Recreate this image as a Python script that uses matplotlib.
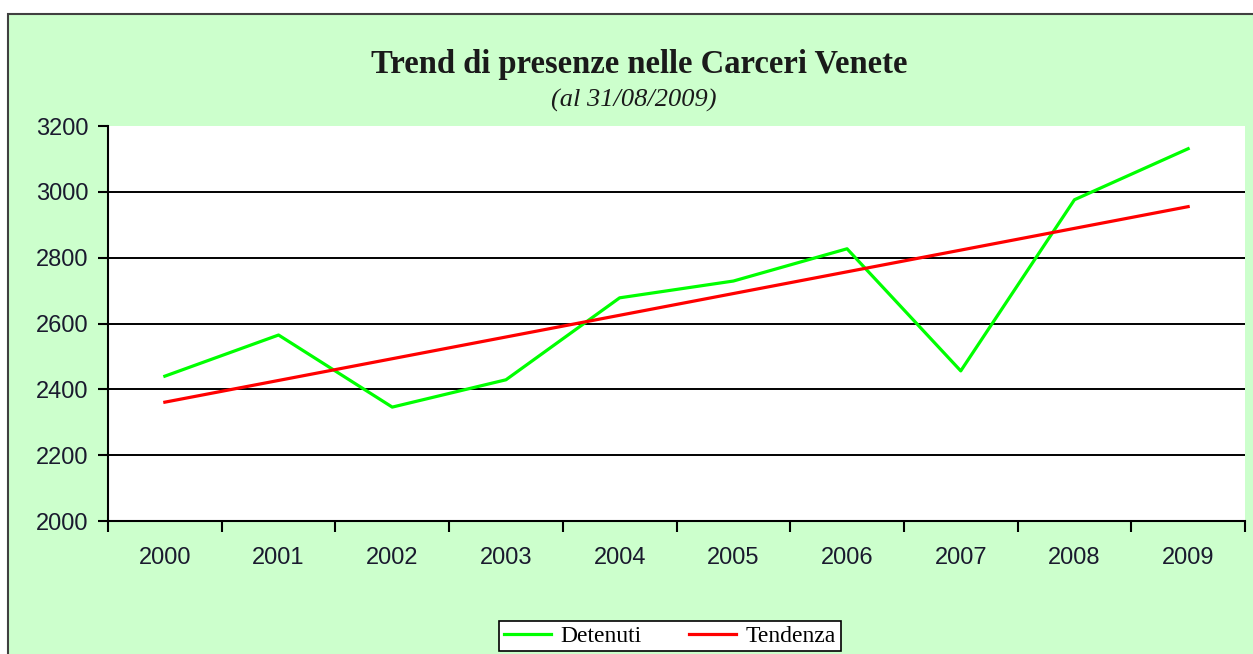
import matplotlib
matplotlib.use("Agg")
import matplotlib.pyplot as plt
from matplotlib.patches import Rectangle
import numpy as np

years = ["2000", "2001", "2002", "2003", "2004", "2005", "2006", "2007", "2008", "2009"]
detenuti = [2440, 2565, 2346, 2429, 2678, 2729, 2827, 2456, 2976, 3131]
tendenza = [2361, 2427, 2493, 2559, 2625, 2691, 2757, 2823, 2889, 2955]
yticks = [2000, 2200, 2400, 2600, 2800, 3000, 3200]

W, H = 1253, 654
fig = plt.figure(figsize=(W / 100, H / 100), dpi=100)
fig.patch.set_facecolor("white")

# outer green chart area with border
bg = Rectangle((8 / W, -0.1), 1.2, 1 - 14 / H + 0.1, transform=fig.transFigure,
               facecolor="#CCFFCC", edgecolor="#404040", linewidth=1.5, zorder=-5)
fig.patches.append(bg)

left, right, top, bottom = 108, 1245, 126, 521
ax = fig.add_axes([left / W, 1 - bottom / H, (right - left) / W, (bottom - top) / H])
ax.set_zorder(2)
ax.set_facecolor("white")

x = np.arange(len(years))
ax.plot(x, detenuti, color="#00FF00", lw=2.3, label="Detenuti", zorder=3)
ax.plot(x, tendenza, color="#FF0000", lw=2.3, label="Tendenza", zorder=3)

ax.set_xlim(-0.5, len(years) - 0.5)
ax.set_ylim(2000, 3200)
ax.set_yticks(yticks)
ax.set_yticklabels([str(v) for v in yticks], fontsize=17, family="Liberation Sans", color="#1a1a2e")
for v in yticks[1:-1]:
    ax.axhline(v, color="black", lw=1.4, zorder=1)

ax.set_xticks(np.arange(-0.5, len(years), 1.0))
ax.set_xticklabels([])
ax.set_xticks(x, minor=True)
ax.set_xticklabels(years, minor=True, fontsize=17, family="Liberation Sans", color="#1a1a2e")
ax.tick_params(axis="x", which="major", direction="out", length=8, width=1.5, color="black")
ax.tick_params(axis="x", which="minor", length=0, pad=19)
ax.tick_params(axis="y", direction="out", length=7, width=1.5, color="black", pad=7)

for s in ["top", "right"]:
    ax.spines[s].set_visible(False)
for s in ["left", "bottom"]:
    ax.spines[s].set_linewidth(1.5)
    ax.spines[s].set_color("black")

fig.text(639 / W, 1 - 64 / H, "Trend di presenze nelle Carceri Venete", ha="center", va="center",
         fontsize=23.5, fontweight="bold", family="Liberation Serif", color="#1a1a1a")
fig.text(634 / W, 1 - 100 / H, "(al 31/08/2009)", ha="center", va="center",
         fontsize=19, fontstyle="italic", family="Liberation Serif", color="#1a1a1a")

leg = fig.legend(loc="center", bbox_to_anchor=(670 / W, 1 - 636 / H), ncol=2, frameon=True,
                 prop={"family": "Liberation Serif", "size": 17}, fancybox=False,
                 handlelength=2.0, columnspacing=2.0, borderpad=0.2, handletextpad=0.4,
                 borderaxespad=0)
leg.get_frame().set_edgecolor("black")
leg.get_frame().set_linewidth(1.2)
leg.get_frame().set_facecolor("white")
leg.get_frame().set_alpha(1)
leg.set_zorder(5)

fig.savefig("out.png", dpi=100, facecolor=fig.get_facecolor())
